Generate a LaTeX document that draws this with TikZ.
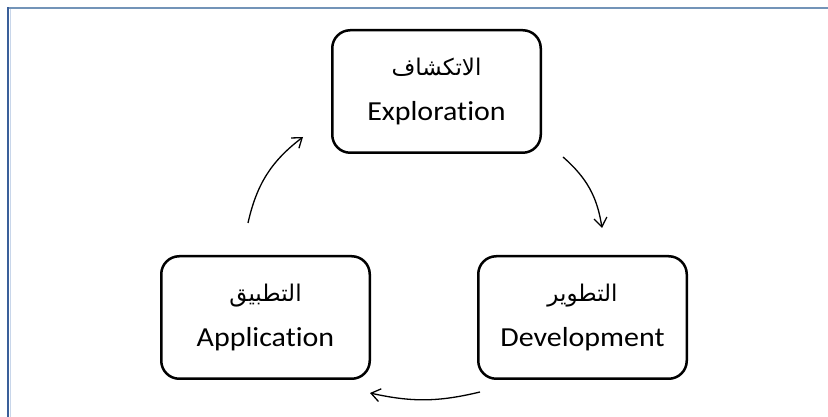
\documentclass[tikz,border=0pt]{standalone}
\usepackage{fontspec}
\setmainfont[Ligatures=CommonOff,FakeStretch=1.09]{Carlito}
\newfontfamily\arabicfont[Script=Arabic]{DejaVu Sans}
\TeXXeTstate=1
\usetikzlibrary{arrows.meta}
\definecolor{frametop}{HTML}{7394B8}
\definecolor{frameleft}{HTML}{3A5F99}
\definecolor{framelight}{HTML}{C8D6EA}
\begin{document}
\begin{tikzpicture}[x=1pt,y=1pt,
  stagebox/.style={draw, line width=2.5pt, rounded corners=18pt, minimum width=208.5pt, minimum height=122.5pt, inner sep=0pt},
  artext/.style={font=\arabicfont\fontsize{23}{27}\selectfont, anchor=base, inner sep=0pt},
  entext/.style={font=\fontsize{27.5}{32}\selectfont, anchor=base, inner sep=0pt},
  cyc/.style={line width=1.3pt, -{Straight Barb[length=9pt,width=13pt]}}]
\useasboundingbox (0,0) rectangle (828,417);
\fill[white] (0,0) rectangle (828,417);
\draw[frametop, line width=2pt] (8,408.5) -- (828,408.5);
\draw[frameleft, line width=2pt] (8,409.5) -- (8,0);
\draw[framelight, line width=1pt] (10,407.5) -- (10,0);

\node[stagebox] (top) at (436.5,325.5) {};
\node[stagebox] (left) at (265.5,99.5) {};
\node[stagebox] (right) at (582.5,99.5) {};

\node[artext] (topar) at ([yshift=16pt]top.center) {\beginR الاتكشاف\endR};
\node[entext] (topen) at ([yshift=-29pt]top.center) {Exploration};
\node[artext] (leftar) at ([yshift=16pt]left.center) {\beginR التطبيق\endR};
\node[entext] (leften) at ([yshift=-29pt]left.center) {Application};
\node[artext] (rightar) at ([yshift=16pt]right.center) {\beginR التطوير\endR};
\node[entext] (righten) at ([yshift=-29pt]right.center) {Development};

\coordinate (a1s) at (248,194);
\coordinate (a1e) at (303,280);
\coordinate (a2s) at (563,260);
\coordinate (a2e) at (602,189);
\coordinate (a3s) at (480,25);
\coordinate (a3e) at (370,24);
\draw[cyc] (a1s) to[bend left=20] (a1e);
\draw[cyc] (a2s) to[bend left=20] (a2e);
\draw[cyc] (a3s) to[bend left=13] (a3e);
\end{tikzpicture}
\end{document}
